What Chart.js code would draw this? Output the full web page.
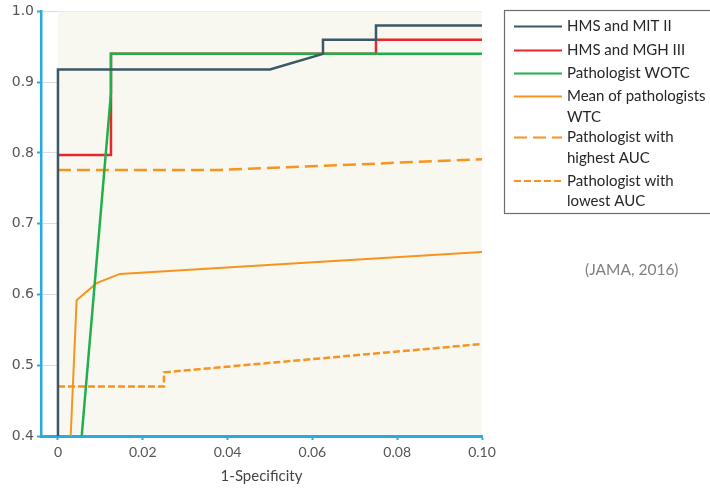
<!DOCTYPE html>
<html>
<head>
<meta charset="utf-8">
<script src="https://cdn.jsdelivr.net/npm/chart.js@4/dist/chart.umd.min.js"></script>
<style>
  html, body { margin: 0; padding: 0; background: #fff; }
</style>
</head>
<body>
<canvas id="roc" width="710" height="492"></canvas>
<script>
// ROC curves, zoomed to 1-specificity 0..0.10
const xTicks = [0, 0.02, 0.04, 0.06, 0.08, 0.10];
const xTickLabels = ['0', '0.02', '0.04', '0.06', '0.08', '0.10'];
const yTicks = [0.4, 0.5, 0.6, 0.7, 0.8, 0.9, 1.0];
const yTickLabels = ['0.4', '0.5', '0.6', '0.7', '0.8', '0.9', '1.0'];

const seriesNames = ['HMS and MIT II', 'HMS and MGH III', 'Pathologist WOTC',
  'Mean of pathologists\nWTC', 'Pathologist with\nhighest AUC', 'Pathologist with\nlowest AUC'];

const mitX = [0, 0, 0.05, 0.0625, 0.0625, 0.075, 0.075, 0.1];
const mitY = [0.4, 0.918, 0.918, 0.94, 0.96, 0.96, 0.98, 0.98];
const mghX = [0, 0.0125, 0.0125, 0.075, 0.075, 0.1];
const mghY = [0.797, 0.797, 0.94, 0.94, 0.96, 0.96];
const wotcX = [0.0056, 0.0125, 0.0125, 0.1];
const wotcY = [0.4, 0.885, 0.94, 0.94];
const meanX = [0.003, 0.0044, 0.0091, 0.0146, 0.1];
const meanY = [0.4, 0.592, 0.616, 0.629, 0.66];
const highX = [0, 0.038, 0.1];
const highY = [0.776, 0.776, 0.791];
const lowX = [0, 0.025, 0.025, 0.1];
const lowY = [0.47, 0.47, 0.49, 0.53];

const blue = '#29abe2';

function pts(xs, ys) {
  return xs.map((x, i) => ({ x: x, y: ys[i] }));
}

// order: lower number is drawn on top
function line(i, xs, ys, color, width, dash, order) {
  return {
    label: seriesNames[i],
    data: pts(xs, ys),
    borderColor: color,
    borderWidth: width,
    borderDash: dash,
    pointRadius: 0,
    tension: 0,
    fill: false,
    order: order
  };
}

// cream plot background, covers the grid lines inside the data area
const plotBg = {
  id: 'plotBg',
  beforeDatasetsDraw(chart) {
    const { ctx, chartArea, scales } = chart;
    const x0 = scales.x.getPixelForValue(0);
    ctx.save();
    ctx.fillStyle = '#f8f7f0';
    ctx.fillRect(x0, chartArea.top, chartArea.right - x0, chartArea.bottom - chartArea.top - 1.5);
    ctx.restore();
  }
};

// boxed legend on the right + source note
const sideLegend = {
  id: 'sideLegend',
  afterDraw(chart) {
    const ctx = chart.ctx;
    const rowY = [26.5, 50.5, 73.5, 96.5, 137.5, 181];
    ctx.save();
    ctx.strokeStyle = '#6d6d6d';
    ctx.lineWidth = 1.2;
    ctx.strokeRect(504.5, 10.5, 220, 203);
    ctx.font = '15px Lato';
    ctx.textBaseline = 'middle';
    chart.data.datasets.forEach((ds, i) => {
      const y = rowY[i];
      ctx.beginPath();
      ctx.strokeStyle = ds.borderColor;
      ctx.lineWidth = 2;
      ctx.setLineDash(ds.borderDash || []);
      ctx.moveTo(514, y);
      ctx.lineTo(562, y);
      ctx.stroke();
      ctx.setLineDash([]);
      ctx.fillStyle = '#262626';
      ds.label.split('\n').forEach((t, k) => ctx.fillText(t, 567, y + k * 20.5));
    });
    ctx.font = '15.5px Lato';
    ctx.fillStyle = '#808080';
    ctx.fillText('(JAMA, 2016)', 585, 270);
    ctx.restore();
  }
};

new Chart(document.getElementById('roc'), {
  type: 'line',
  data: {
    datasets: [
      line(0, mitX, mitY, '#3b5866', 2.5, [], 0),
      line(1, mghX, mghY, '#e8262d', 2.5, [], 2),
      line(2, wotcX, wotcY, '#1fb04c', 2.5, [], 1),
      line(3, meanX, meanY, '#f7941e', 2, [], 3),
      line(4, highX, highY, '#f7941e', 2.5, [13, 6], 4),
      line(5, lowX, lowY, '#f7941e', 2.5, [7, 3], 5)
    ]
  },
  options: {
    responsive: false,
    animation: false,
    devicePixelRatio: 1,
    layout: { padding: { left: 0, top: 11, right: 228, bottom: 0 } },
    plugins: {
      legend: { display: false },
      tooltip: { enabled: false }
    },
    scales: {
      x: {
        type: 'linear',
        min: -0.004,
        max: 0.1,
        afterBuildTicks: (scale) => { scale.ticks = xTicks.map(v => ({ value: v })); },
        afterFit: (scale) => { scale.height = 56; },
        ticks: {
          callback: (v, i) => xTickLabels[i],
          font: { family: 'Lato', size: 14 },
          color: '#555',
          padding: 4,
          maxRotation: 0
        },
        grid: { drawOnChartArea: false, tickLength: 4, tickColor: blue, tickWidth: 2 },
        border: { color: blue, width: 3 },
        title: {
          display: true,
          text: '1-Specificity',
          font: { family: 'Lato', size: 15 },
          color: '#444',
          padding: { top: 2, bottom: 7 }
        }
      },
      y: {
        min: 0.4,
        max: 1.0,
        afterBuildTicks: (scale) => { scale.ticks = yTicks.map(v => ({ value: v })); },
        afterFit: (scale) => { scale.width = 41; },
        ticks: {
          callback: (v, i) => yTickLabels[i],
          font: { family: 'DejaVu Sans', size: 14 },
          color: '#555',
          padding: 3
        },
        grid: { color: '#dcdcdc', lineWidth: 1, tickLength: 4, tickColor: blue, tickWidth: 2 },
        border: { color: blue, width: 2.5 }
      }
    }
  },
  plugins: [plotBg, sideLegend]
});
</script>
</body>
</html>
